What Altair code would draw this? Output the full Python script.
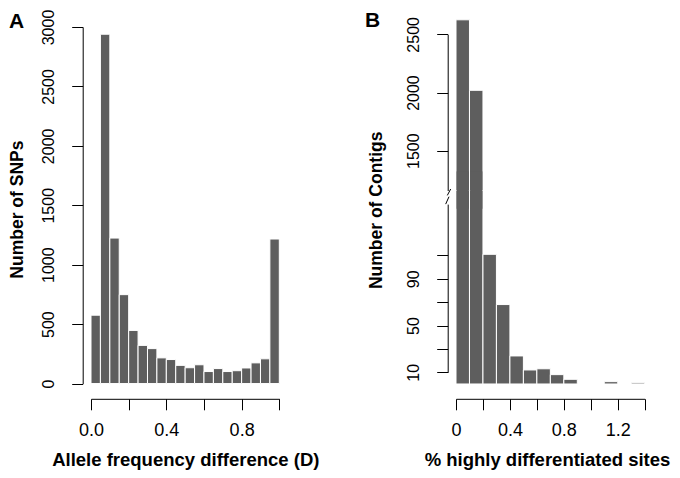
import altair as alt
import pandas as pd

FONT = "Liberation Sans"
BAR_FILL = "#5e5e5e"

# ---------------- Panel A: allele frequency difference (D) ----------------
A_EDGES = [0.00, 0.05, 0.10, 0.15, 0.20, 0.25, 0.30, 0.35, 0.40, 0.45, 0.50,
           0.55, 0.60, 0.65, 0.70, 0.75, 0.80, 0.85, 0.90, 0.95, 1.00]
A_COUNTS = [575, 2939, 1224, 748, 447, 321, 294, 216, 202, 153,
            133, 158, 101, 126, 101, 108, 131, 174, 208, 1216]
A_Y_TICKS = [0, 500, 1000, 1500, 2000, 2500, 3000]
A_X_TICKS = [0.0, 0.2, 0.4, 0.6, 0.8, 1.0]

# ---------------- Panel B: % highly differentiated sites ----------------
B_EDGES = [0.0, 0.1, 0.2, 0.3, 0.4, 0.5, 0.6, 0.7, 0.8, 0.9, 1.0, 1.1, 1.2, 1.3, 1.4]
B_COUNTS = [2625, 2019, 111, 68, 24, 12, 13, 8, 4, 0, 0, 2, 0, 1]
B_LOW_TICKS = [10, 30, 50, 70, 90, 110]
B_HIGH_TICKS = [1500, 2000, 2500]
B_X_TICKS = [0.0, 0.2, 0.4, 0.6, 0.8, 1.0, 1.2, 1.4]
B_LOW_DOMAIN = [10, 154]      # lower part of the broken y axis
B_HIGH_DOMAIN = [1158, 2500]  # upper part of the broken y axis
B_GAP = [166, 1158]           # counts skipped by the axis break

# ---------------- tables ----------------
df_a = pd.DataFrame({
    "lo": A_EDGES[:-1], "hi": A_EDGES[1:], "count": A_COUNTS, "base": 0,
})
df_b_low = pd.DataFrame({
    "lo": B_EDGES[:-1], "hi": B_EDGES[1:],
    "top": [min(c, B_GAP[0]) for c in B_COUNTS], "base": 0,
})
df_b_low = df_b_low[df_b_low["top"] > 0]
big = [(l, h, c) for l, h, c in zip(B_EDGES[:-1], B_EDGES[1:], B_COUNTS) if c > B_GAP[1]]
df_b_high = pd.DataFrame({
    "lo": [b[0] for b in big], "hi": [b[1] for b in big], "top": [b[2] for b in big],
})
df_b_high["base"] = B_GAP[1]
# piece that hides the seam where the two halves of the tall bars meet
df_b_seam = pd.DataFrame({
    "lo": [b[0] for b in big], "hi": [b[1] for b in big],
    "top": B_GAP[0] + 16, "base": B_LOW_DOMAIN[1] - 4,
})

common_axis = dict(
    labelFont=FONT, labelColor="black", tickColor="black", domainColor="black",
    tickSize=11, tickWidth=1, domainWidth=1, grid=False, labelOverlap=False,
    labelFlush=False, labelBound=False, titleFont=FONT, titleFontWeight="bold",
    titleColor="black",
)
y_label_style = dict(labelAngle=270, labelAlign="center", labelBaseline="middle",
                     labelPadding=23, labelFontSize=16)
x_label_style = dict(labelAlign="center", labelBaseline="middle", labelPadding=21,
                     labelFontSize=18, labelAngle=0)

rect_style = dict(fill=BAR_FILL, stroke="white", strokeWidth=1)

XA_RANGE = [83, 271.3]
YA_RANGE = [375.55, 18.98]
XB_RANGE = [448, 636.7]
YB_LOW_RANGE = [364.3, 196.1]
YB_HIGH_RANGE = [182.5, 26.35]
X_AXIS_OFFSET = -71.2
X_TITLE_Y = 60.4

# ---------------- Panel A bars ----------------
bars_a = alt.Chart(df_a).mark_rect(**rect_style).encode(
    x=alt.X("lo:Q",
            scale=alt.Scale(domain=[0, 1], range=XA_RANGE, nice=False, zero=False),
            axis=alt.Axis(orient="bottom", offset=X_AXIS_OFFSET, values=A_X_TICKS,
                          labelExpr="(round(datum.value*10) % 4 == 0) ? format(datum.value, '.1f') : ''",
                          title="Allele frequency difference (D)",
                          titleX=177.3, titleY=X_TITLE_Y, titleAngle=0, titleAlign="center",
                          titleBaseline="middle", titleFontSize=18.5,
                          **x_label_style, **common_axis)),
    x2="hi:Q",
    y=alt.Y("count:Q",
            scale=alt.Scale(domain=[0, 3000], range=YA_RANGE, nice=False, zero=False),
            axis=alt.Axis(orient="left", offset=-74.7, values=A_Y_TICKS, format="d",
                          title="Number of SNPs", titleX=-65.1, titleY=201.1,
                          titleAngle=270, titleAlign="center", titleBaseline="middle",
                          titleFontSize=17.5, **y_label_style, **common_axis)),
    y2="base:Q",
)

# ---------------- Panel B bars (broken y axis) ----------------
bars_b_low = alt.Chart(df_b_low).mark_rect(**rect_style).encode(
    x=alt.X("lo:Q",
            scale=alt.Scale(domain=[0, 1.4], range=XB_RANGE, nice=False, zero=False),
            axis=alt.Axis(orient="bottom", offset=X_AXIS_OFFSET, values=B_X_TICKS,
                          labelExpr="(round(datum.value*10) % 4 == 0) ? (datum.value == 0 ? '0' : format(datum.value, '.1f')) : ''",
                          title="% highly differentiated sites",
                          titleX=539, titleY=X_TITLE_Y, titleAngle=0, titleAlign="center",
                          titleBaseline="middle", titleFontSize=18.5,
                          **x_label_style, **common_axis)),
    x2="hi:Q",
    y=alt.Y("top:Q",
            scale=alt.Scale(domain=B_LOW_DOMAIN, range=YB_LOW_RANGE, nice=False, zero=False),
            axis=alt.Axis(orient="left", offset=-439.7, values=B_LOW_TICKS, format="d",
                          labelExpr="((datum.value - 10) % 40 == 0) ? format(datum.value, 'd') : ''",
                          title="Number of Contigs", titleX=-71.1, titleY=201.8,
                          titleAngle=270, titleAlign="center", titleBaseline="middle",
                          titleFontSize=17.5, **y_label_style, **common_axis)),
    y2="base:Q",
)

bars_b_high = alt.Chart(df_b_high).mark_rect(**rect_style).encode(
    x=alt.X("lo:Q",
            scale=alt.Scale(domain=[0, 1.4], range=XB_RANGE, nice=False, zero=False),
            axis=None),
    x2="hi:Q",
    y=alt.Y("top:Q",
            scale=alt.Scale(domain=B_HIGH_DOMAIN, range=YB_HIGH_RANGE, nice=False, zero=False),
            axis=alt.Axis(orient="left", offset=-439.7, values=B_HIGH_TICKS, format="d",
                          title=None, **y_label_style, **common_axis)),
    y2="base:Q",
)

bars_b_seam = alt.Chart(df_b_seam).mark_rect(
    fill=BAR_FILL, strokeWidth=0, xOffset=0.6, x2Offset=-0.6).encode(
    x=alt.X("lo:Q",
            scale=alt.Scale(domain=[0, 1.4], range=XB_RANGE, nice=False, zero=False),
            axis=None),
    x2="hi:Q",
    y=alt.Y("top:Q",
            scale=alt.Scale(domain=B_LOW_DOMAIN, range=YB_LOW_RANGE, nice=False, zero=False),
            axis=None),
    y2="base:Q",
)

# axis-break marks
break1 = alt.Chart(pd.DataFrame({"k": [0]})).mark_rule(color="black", strokeWidth=1).encode(
    x=alt.value(442.7), x2=alt.value(439.3), y=alt.value(181.0), y2=alt.value(187.4))
break2 = alt.Chart(pd.DataFrame({"k": [0]})).mark_rule(color="black", strokeWidth=1).encode(
    x=alt.value(441), x2=alt.value(437.7), y=alt.value(188.7), y2=alt.value(196.1))

# panel letters
letter_a = alt.Chart(pd.DataFrame({"t": ["A"]})).mark_text(
    font=FONT, fontSize=21, fontWeight="bold", align="left", baseline="alphabetic",
    color="black").encode(text="t:N", x=alt.value(1), y=alt.value(20))
letter_b = alt.Chart(pd.DataFrame({"t": ["B"]})).mark_text(
    font=FONT, fontSize=21, fontWeight="bold", align="left", baseline="alphabetic",
    color="black").encode(text="t:N", x=alt.value(357), y=alt.value(19.3))

chart = alt.layer(
    bars_a, bars_b_low, bars_b_high, bars_b_seam, break1, break2, letter_a, letter_b
).resolve_scale(
    x="independent", y="independent"
).properties(
    width=664, height=462,
    autosize=alt.AutoSizeParams(type="none"),
    padding=0,
).configure_view(stroke=None)

chart.save("out.html", embed_options={"renderer": "svg", "actions": False})
